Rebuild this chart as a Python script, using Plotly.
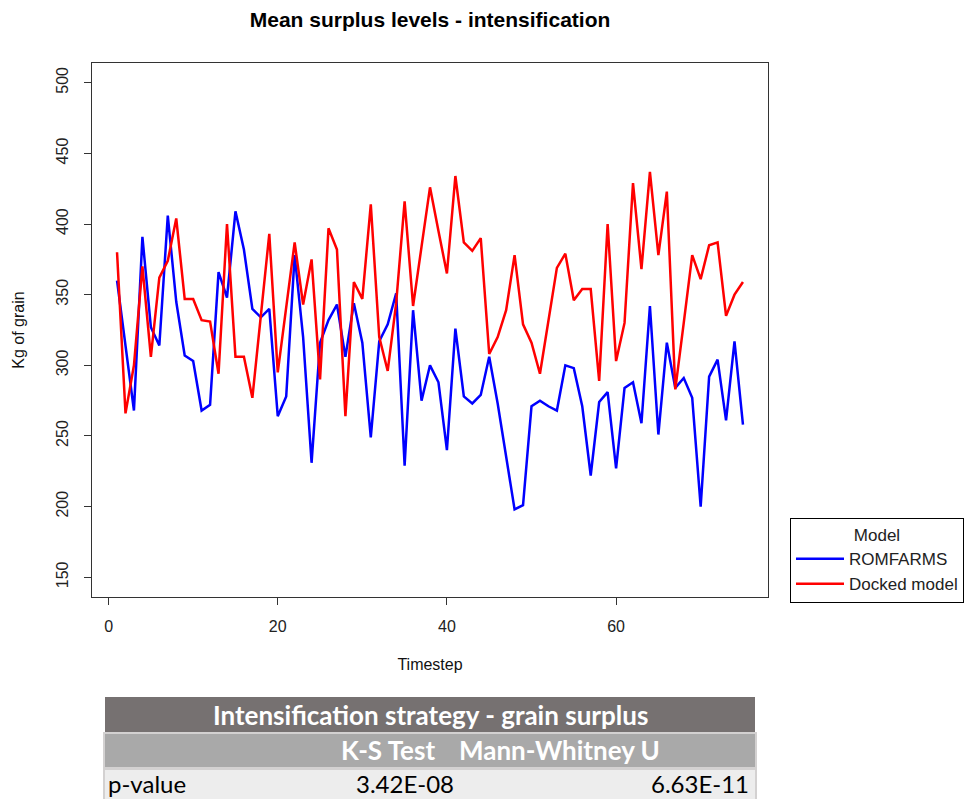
import plotly.graph_objects as go

# ---------------- data ----------------
timestep = list(range(1, 76))
romfarms = [360, 312, 268, 391, 327, 314, 406, 345, 307, 303,
            268, 272, 366, 348, 409, 382, 340, 334, 340, 264,
            278, 378, 320, 231, 316, 332, 343, 306, 344, 316,
            249, 317, 329, 351, 229, 339, 275, 300, 288, 240,
            326, 278, 273, 279, 306, 273, 237, 198, 201, 271,
            275, 271, 268, 300, 298, 271, 222, 274, 281, 227,
            284, 288, 259, 342, 251, 316, 284, 291, 277, 200,
            292, 304, 261, 317, 258]
docked = [380, 266, 300, 370, 306, 362, 374, 404, 347, 347,
          332, 331, 294, 400, 306, 306, 277, 335, 393, 295,
          342, 387, 343, 375, 290, 397, 382, 264, 359, 347,
          414, 320, 296, 344, 416, 342, 384, 426, 395, 365,
          434, 387, 381, 390, 308, 320, 339, 378, 329, 316,
          294, 332, 369, 379, 346, 354, 354, 289, 400, 303,
          330, 429, 368, 437, 378, 423, 283, 330, 378, 361,
          385, 387, 335, 350, 359]
series_names = ["ROMFARMS", "Docked model"]
x_ticks = [0, 20, 40, 60]
y_ticks = [150, 200, 250, 300, 350, 400, 450, 500]

table_title = "Intensification strategy - grain surplus"
table_cols = ["K-S Test", "Mann-Whitney U"]
table_row_label = "p-value"
table_pvalues = ["3.42E-08", "6.63E-11"]

# ---------------- layout geometry ----------------
W, H = 966, 799
L, R, T, B = 92, 198, 63, 202
PW, PH = W - L - R, H - T - B


def px(x):
    return (x - L) / PW


def py(y):
    return (H - B - y) / PH


FONT = "Liberation Sans, Arial, sans-serif"
TFONT = "Lato, Open Sans, sans-serif"

fig = go.Figure()
fig.add_trace(go.Scatter(x=timestep, y=romfarms, mode="lines", name=series_names[0],
                         line=dict(color="#0000FF", width=2.5)))
fig.add_trace(go.Scatter(x=timestep, y=docked, mode="lines", name=series_names[1],
                         line=dict(color="#FF0000", width=2.5)))

axis_common = dict(showgrid=False, zeroline=False, showline=True, linecolor="#333",
                   linewidth=1, mirror=True, ticks="outside", ticklen=7,
                   tickcolor="#333", tickfont=dict(family=FONT, size=16, color="#222"))

fig.update_xaxes(range=[-1.96, 77.96], tickvals=x_ticks, ticklabelstandoff=8,
                 title=dict(text="Timestep", font=dict(family=FONT, size=16, color="#111"),
                            standoff=24),
                 **axis_common)
fig.update_yaxes(range=[136, 514], tickvals=y_ticks, tickangle=-90, ticklabelstandoff=10,
                 title=dict(text="Kg of grain", font=dict(family=FONT, size=16, color="#111"),
                            standoff=24),
                 **axis_common)

shapes = []
annotations = []

# table background bands
shapes.append(dict(type="rect", xref="paper", yref="paper", x0=px(105), x1=px(755),
                   y0=py(732), y1=py(697), fillcolor="#767171", line=dict(width=0), layer="below"))
shapes.append(dict(type="rect", xref="paper", yref="paper", x0=px(104), x1=px(756),
                   y0=py(768), y1=py(733), fillcolor="#A9A9A9",
                   line=dict(width=2, color="#D3D1D1"), layer="below"))
shapes.append(dict(type="rect", xref="paper", yref="paper", x0=px(104), x1=px(756),
                   y0=py(800), y1=py(769), fillcolor="#EDEDED",
                   line=dict(width=2, color="#D3D1D1"), layer="below"))

TS = 26
RS = 24
annotations.append(dict(text="<b>" + table_title + "</b>", xref="paper", yref="paper",
                        x=px(430), y=py(715), showarrow=False, xanchor="center", yanchor="middle",
                        font=dict(family=TFONT, size=TS, color="white")))
annotations.append(dict(text="<b>" + table_cols[0] + "</b>", xref="paper", yref="paper",
                        x=px(437), y=py(750), showarrow=False, xanchor="right", yanchor="middle",
                        font=dict(family=TFONT, size=TS, color="white")))
annotations.append(dict(text="<b>" + table_cols[1] + "</b>", xref="paper", yref="paper",
                        x=px(457), y=py(750), showarrow=False, xanchor="left", yanchor="middle",
                        font=dict(family=TFONT, size=TS, color="white")))
annotations.append(dict(text=table_row_label, xref="paper", yref="paper",
                        x=px(107), y=py(783), showarrow=False, xanchor="left", yanchor="middle",
                        borderpad=0, font=dict(family=TFONT, size=RS, color="black")))
annotations.append(dict(text=table_pvalues[0], xref="paper", yref="paper",
                        x=px(455), y=py(783), showarrow=False, xanchor="right", yanchor="middle",
                        borderpad=0, font=dict(family=TFONT, size=RS, color="black")))
annotations.append(dict(text=table_pvalues[1], xref="paper", yref="paper",
                        x=px(750), y=py(783), showarrow=False, xanchor="right", yanchor="middle",
                        borderpad=0, font=dict(family=TFONT, size=RS, color="black")))

fig.update_layout(
    width=W, height=H,
    margin=dict(l=L, r=R, t=T, b=B, pad=0, autoexpand=False),
    paper_bgcolor="white", plot_bgcolor="white",
    title=dict(text="<b>Mean surplus levels - intensification</b>", xref="container",
               x=430 / W, xanchor="center",
               y=1 - 20 / H, yanchor="middle", font=dict(family=FONT, size=21, color="black")),
    legend=dict(title=dict(text="Model", side="top center", font=dict(family=FONT, size=17, color="#222")),
                x=px(790), y=py(518), xanchor="left", yanchor="top", itemwidth=48,
                bgcolor="white", bordercolor="black", borderwidth=1,
                font=dict(family=FONT, size=17, color="#222"), tracegroupgap=0),
    shapes=shapes, annotations=annotations,
)

fig.write_html("out.html")
